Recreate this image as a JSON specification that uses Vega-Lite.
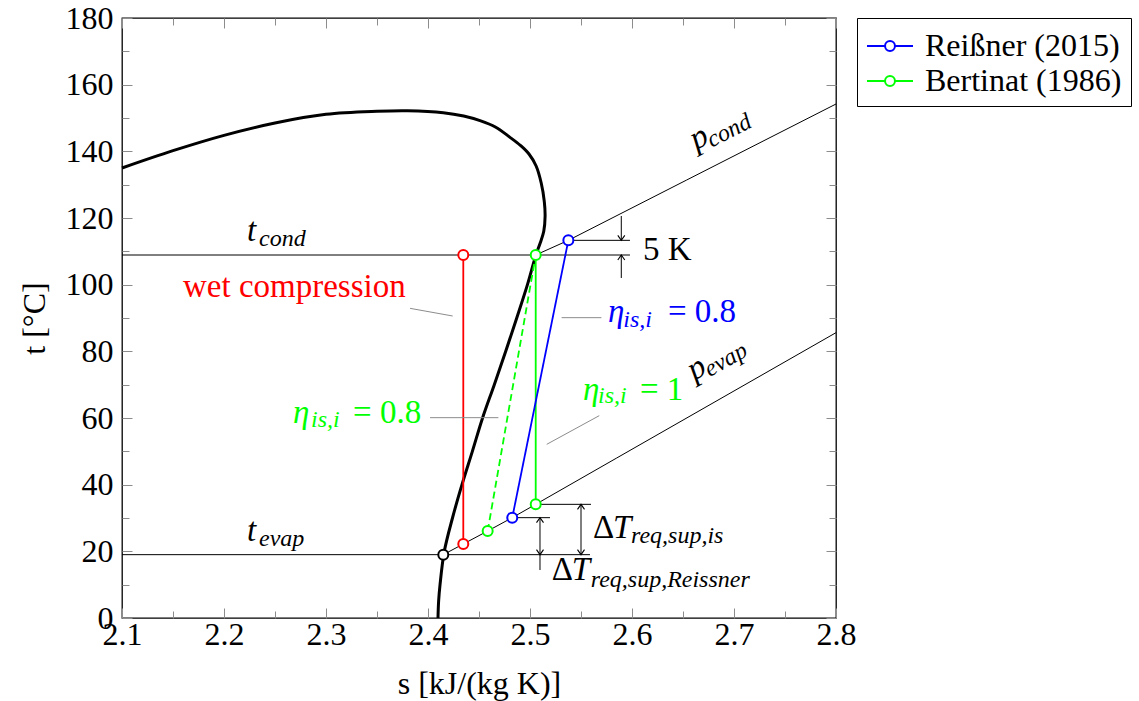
{
  "$schema": "https://vega.github.io/schema/vega-lite/v6.json",
  "width": 714,
  "height": 600,
  "autosize": {"type": "none"},
  "padding": {"left": 122, "top": 18, "right": 303, "bottom": 83},
  "background": "white",
  "config": {
    "view": {"stroke": "black", "strokeWidth": 1.3},
    "font": "Liberation Serif",
    "axis": {"grid": false, "domain": false, "labelFont": "Liberation Serif", "labelFontSize": 32, "labelColor": "black", "titleFont": "Liberation Serif", "titleFontSize": 32, "titleFontWeight": "normal", "titleColor": "black", "tickColor": "#8c8c8c", "tickWidth": 1, "labelFlush": false, "labelOverlap": false, "labelBound": false}
  },
  "datasets": {
    "sat": [
      {"o": 0, "s": 2.1, "t": 135.0}, {"o": 1, "s": 2.15, "t": 140.2}, {"o": 2, "s": 2.2, "t": 144.8}, {"o": 3, "s": 2.25, "t": 148.5},
      {"o": 4, "s": 2.3, "t": 151.1}, {"o": 5, "s": 2.35, "t": 152.0}, {"o": 6, "s": 2.38, "t": 152.15}, {"o": 7, "s": 2.415, "t": 151.6},
      {"o": 8, "s": 2.435, "t": 150.6}, {"o": 9, "s": 2.451, "t": 149.2}, {"o": 10, "s": 2.466, "t": 147.3}, {"o": 11, "s": 2.4804, "t": 144.2},
      {"o": 12, "s": 2.4905, "t": 141.8}, {"o": 13, "s": 2.499, "t": 139.2}, {"o": 14, "s": 2.506, "t": 135.6}, {"o": 15, "s": 2.511, "t": 130.5},
      {"o": 16, "s": 2.514, "t": 125.0}, {"o": 17, "s": 2.5148, "t": 120.5}, {"o": 18, "s": 2.5135, "t": 116.0}, {"o": 19, "s": 2.51, "t": 112.5},
      {"o": 20, "s": 2.5058, "t": 108.9}, {"o": 21, "s": 2.4975, "t": 100.0}, {"o": 22, "s": 2.487, "t": 90.0}, {"o": 23, "s": 2.4762, "t": 80.0},
      {"o": 24, "s": 2.465, "t": 70.0}, {"o": 25, "s": 2.4535, "t": 60.0}, {"o": 26, "s": 2.4435, "t": 50.0}, {"o": 27, "s": 2.4333, "t": 40.0},
      {"o": 28, "s": 2.424, "t": 30.0}, {"o": 29, "s": 2.416, "t": 20.0}, {"o": 30, "s": 2.4118, "t": 10.0}, {"o": 31, "s": 2.4104, "t": 5.0},
      {"o": 32, "s": 2.4098, "t": 0.0}
    ],
    "thin": [
      {"grp": "tcond", "o": 0, "s": 2.1, "t": 108.9}, {"grp": "tcond", "o": 1, "s": 2.598, "t": 108.9},
      {"grp": "tevap", "o": 0, "s": 2.1, "t": 19.0}, {"grp": "tevap", "o": 1, "s": 2.5588, "t": 19.0},
      {"grp": "pcond", "o": 0, "s": 2.5056, "t": 108.9}, {"grp": "pcond", "o": 1, "s": 2.5376, "t": 113.3}, {"grp": "pcond", "o": 2, "s": 2.6536, "t": 131.4}, {"grp": "pcond", "o": 3, "s": 2.8, "t": 154.2},
      {"grp": "pevap", "o": 0, "s": 2.415, "t": 19.0}, {"grp": "pevap", "o": 1, "s": 2.4346, "t": 22.2}, {"grp": "pevap", "o": 2, "s": 2.4585, "t": 26.1}, {"grp": "pevap", "o": 3, "s": 2.4826, "t": 30.1}, {"grp": "pevap", "o": 4, "s": 2.5056, "t": 34.1}, {"grp": "pevap", "o": 5, "s": 2.585, "t": 48.0}, {"grp": "pevap", "o": 6, "s": 2.8, "t": 85.6},
      {"grp": "k5", "o": 0, "s": 2.5376, "t": 113.3}, {"grp": "k5", "o": 1, "s": 2.598, "t": 113.3},
      {"grp": "k5a", "o": 0, "s": 2.5895, "t": 120.6}, {"grp": "k5a", "o": 1, "s": 2.5895, "t": 113.3},
      {"grp": "k5b", "o": 0, "s": 2.5895, "t": 102.0}, {"grp": "k5b", "o": 1, "s": 2.5895, "t": 108.9},
      {"grp": "drh", "o": 0, "s": 2.4826, "t": 30.1}, {"grp": "drh", "o": 1, "s": 2.5196, "t": 30.1},
      {"grp": "drv", "o": 0, "s": 2.5098, "t": 14.4}, {"grp": "drv", "o": 1, "s": 2.5098, "t": 30.1},
      {"grp": "dih", "o": 0, "s": 2.5056, "t": 34.1}, {"grp": "dih", "o": 1, "s": 2.5598, "t": 34.1},
      {"grp": "div", "o": 0, "s": 2.55, "t": 19.0}, {"grp": "div", "o": 1, "s": 2.55, "t": 34.1}
    ],
    "cycle": [
      {"series": "wet compression", "seg": "w", "dash": "solid", "o": 0, "s": 2.4346, "t": 22.2},
      {"series": "wet compression", "seg": "w", "dash": "solid", "o": 1, "s": 2.4346, "t": 108.9},
      {"series": "Bertinat (1986)", "seg": "b1", "dash": "solid", "o": 0, "s": 2.5056, "t": 34.1},
      {"series": "Bertinat (1986)", "seg": "b1", "dash": "solid", "o": 1, "s": 2.5056, "t": 108.9},
      {"series": "Bertinat (1986)", "seg": "b2", "dash": "dashed", "o": 0, "s": 2.4585, "t": 26.1},
      {"series": "Bertinat (1986)", "seg": "b2", "dash": "dashed", "o": 1, "s": 2.5056, "t": 108.9},
      {"series": "Reißner (2015)", "seg": "r", "dash": "solid", "o": 0, "s": 2.4826, "t": 30.1},
      {"series": "Reißner (2015)", "seg": "r", "dash": "solid", "o": 1, "s": 2.5376, "t": 113.3}
    ],
    "pts": [
      {"series": "Reißner (2015)", "s": 2.4826, "t": 30.1},
      {"series": "Reißner (2015)", "s": 2.5376, "t": 113.3},
      {"series": "Bertinat (1986)", "s": 2.4585, "t": 26.1},
      {"series": "Bertinat (1986)", "s": 2.5056, "t": 34.1},
      {"series": "Bertinat (1986)", "s": 2.5056, "t": 108.9},
      {"series": "wet compression", "s": 2.4346, "t": 22.2},
      {"series": "wet compression", "s": 2.4346, "t": 108.9},
      {"series": "diagram", "s": 2.415, "t": 19.0}
    ],
    "leaders": [
      {"grp": "wet", "s": 2.3824, "t": 92.9}, {"grp": "wet", "s": 2.4242, "t": 90.6},
      {"grp": "r08", "s": 2.531, "t": 90.1}, {"grp": "r08", "s": 2.57, "t": 90.1},
      {"grp": "b08", "s": 2.402, "t": 60.1}, {"grp": "b08", "s": 2.469, "t": 60.1},
      {"grp": "b1", "s": 2.5164, "t": 52.1}, {"grp": "b1", "s": 2.5679, "t": 60.7}
    ],
    "arrows": [
      {"dir": "down", "s": 2.5895, "t": 113.3},
      {"dir": "up", "s": 2.5895, "t": 108.9},
      {"dir": "up", "s": 2.5098, "t": 30.1},
      {"dir": "down", "s": 2.5098, "t": 19.0},
      {"dir": "up", "s": 2.55, "t": 34.1},
      {"dir": "down", "s": 2.55, "t": 19.0}
    ],
    "notes": [
      {"kind": "main", "series": "diagram", "text": "t", "s": 2.2225, "t": 113.1},
      {"kind": "sub", "series": "diagram", "text": "cond", "s": 2.2343, "t": 111.6},
      {"kind": "main", "series": "diagram", "text": "t", "s": 2.2225, "t": 23.1},
      {"kind": "sub", "series": "diagram", "text": "evap", "s": 2.2343, "t": 21.6},
      {"kind": "roman", "series": "wet compression", "text": "wet compression", "s": 2.1598, "t": 96.3},
      {"kind": "main", "series": "Reißner (2015)", "text": "η", "s": 2.5765, "t": 88.8},
      {"kind": "sub", "series": "Reißner (2015)", "text": "is,i", "s": 2.5915, "t": 87.3},
      {"kind": "roman", "series": "Reißner (2015)", "text": "= 0.8", "s": 2.6353, "t": 88.8},
      {"kind": "main", "series": "Bertinat (1986)", "text": "η", "s": 2.2676, "t": 58.5},
      {"kind": "sub", "series": "Bertinat (1986)", "text": "is,i", "s": 2.2853, "t": 57.3},
      {"kind": "roman", "series": "Bertinat (1986)", "text": "= 0.8", "s": 2.3265, "t": 58.5},
      {"kind": "main", "series": "Bertinat (1986)", "text": "η", "s": 2.552, "t": 65.4},
      {"kind": "sub", "series": "Bertinat (1986)", "text": "is,i", "s": 2.5667, "t": 64.5},
      {"kind": "roman", "series": "Bertinat (1986)", "text": "= 1", "s": 2.6078, "t": 65.4},
      {"kind": "roman", "series": "diagram", "text": "5 K", "s": 2.6108, "t": 107.4},
      {"kind": "roman", "series": "diagram", "text": "Δ", "s": 2.5618, "t": 24.0},
      {"kind": "main", "series": "diagram", "text": "T", "s": 2.5814, "t": 24.0},
      {"kind": "sub", "series": "diagram", "text": "req,sup,is", "s": 2.599, "t": 22.5},
      {"kind": "roman", "series": "diagram", "text": "Δ", "s": 2.5213, "t": 11.4},
      {"kind": "main", "series": "diagram", "text": "T", "s": 2.5409, "t": 11.4},
      {"kind": "sub", "series": "diagram", "text": "req,sup,Reissner", "s": 2.5595, "t": 9.4},
      {"kind": "pc", "series": "diagram", "text": "p", "s": 2.6627, "t": 140.4},
      {"kind": "pcs", "series": "diagram", "text": "cond", "s": 2.6781, "t": 141.1},
      {"kind": "pe", "series": "diagram", "text": "p", "s": 2.6611, "t": 71.2},
      {"kind": "pes", "series": "diagram", "text": "evap", "s": 2.6763, "t": 72.2}
    ]
  },
  "resolve": {"axis": {"x": "independent", "y": "independent"}},
  "layer": [
    {
      "data": {"name": "thin"},
      "mark": {"type": "line", "color": "black", "strokeWidth": 1},
      "encoding": {
        "x": {"field": "s", "type": "quantitative", "scale": {"domain": [2.1, 2.8], "nice": false, "zero": false},
              "axis": {"orient": "bottom", "values": [2.1, 2.2, 2.3, 2.4, 2.5, 2.6, 2.7, 2.8], "format": ".1f", "tickSize": -10, "labelPadding": 11, "title": "s [kJ/(kg K)]", "titlePadding": 18}},
        "y": {"field": "t", "type": "quantitative", "scale": {"domain": [0, 180], "nice": false, "zero": false},
              "axis": {"orient": "left", "values": [0, 20, 40, 60, 80, 100, 120, 140, 160, 180], "format": "d", "tickSize": -10, "labelPadding": 19, "title": "t [°C]", "titlePadding": 14}},
        "detail": {"field": "grp"},
        "order": {"field": "o"}
      }
    },
    {
      "data": {"name": "sat"},
      "mark": {"type": "line", "color": "black", "strokeWidth": 3, "interpolate": "catmull-rom"},
      "encoding": {
        "x": {"field": "s", "type": "quantitative", "scale": {"domain": [2.1, 2.8], "nice": false, "zero": false},
              "axis": {"orient": "bottom", "values": [2.15, 2.25, 2.35, 2.45, 2.55, 2.65, 2.75], "tickSize": -7, "labels": false, "title": null}},
        "y": {"field": "t", "type": "quantitative", "scale": {"domain": [0, 180], "nice": false, "zero": false},
              "axis": {"orient": "left", "values": [10, 30, 50, 70, 90, 110, 130, 150, 170], "tickSize": -7, "labels": false, "title": null}},
        "order": {"field": "o"}
      }
    },
    {
      "data": {"name": "cycle"},
      "mark": {"type": "line", "strokeWidth": 1.8},
      "encoding": {
        "x": {"field": "s", "type": "quantitative", "scale": {"domain": [2.1, 2.8], "nice": false, "zero": false},
              "axis": {"orient": "top", "values": [2.1, 2.2, 2.3, 2.4, 2.5, 2.6, 2.7, 2.8], "tickSize": -10, "labels": false, "title": null}},
        "y": {"field": "t", "type": "quantitative", "scale": {"domain": [0, 180], "nice": false, "zero": false},
              "axis": {"orient": "right", "values": [0, 20, 40, 60, 80, 100, 120, 140, 160, 180], "tickSize": -10, "labels": false, "title": null}},
        "stroke": {"field": "series", "type": "nominal", "scale": {"domain": ["Reißner (2015)", "Bertinat (1986)", "wet compression"], "range": ["#0000ff", "#00ff00", "#ff0000"]}, "legend": null},
        "strokeDash": {"field": "dash", "type": "nominal", "scale": {"domain": ["solid", "dashed"], "range": [[1, 0], [7, 4]]}, "legend": null},
        "detail": {"field": "seg"},
        "order": {"field": "o"}
      }
    },
    {
      "data": {"name": "leaders"},
      "mark": {"type": "line", "color": "#8c8c8c", "strokeWidth": 1},
      "encoding": {
        "x": {"field": "s", "type": "quantitative", "scale": {"domain": [2.1, 2.8], "nice": false, "zero": false},
              "axis": {"orient": "top", "values": [2.15, 2.25, 2.35, 2.45, 2.55, 2.65, 2.75], "tickSize": -7, "labels": false, "title": null}},
        "y": {"field": "t", "type": "quantitative", "scale": {"domain": [0, 180], "nice": false, "zero": false},
              "axis": {"orient": "right", "values": [10, 30, 50, 70, 90, 110, 130, 150, 170], "tickSize": -7, "labels": false, "title": null}},
        "detail": {"field": "grp"}
      }
    },
    {
      "data": {"name": "arrows"},
      "mark": {"type": "point", "filled": false, "color": "black", "strokeWidth": 1.1, "size": 100, "opacity": 1},
      "encoding": {
        "x": {"field": "s", "type": "quantitative", "scale": {"domain": [2.1, 2.8], "nice": false, "zero": false}, "axis": null},
        "y": {"field": "t", "type": "quantitative", "scale": {"domain": [0, 180], "nice": false, "zero": false}, "axis": null},
        "shape": {"field": "dir", "type": "nominal", "scale": {"domain": ["up", "down"], "range": ["M-0.7,1L0,0L0.7,1", "M-0.7,-1L0,0L0.7,-1"]}, "legend": null}
      }
    },
    {
      "data": {"name": "pts"},
      "mark": {"type": "point", "filled": false, "fill": "white", "fillOpacity": 1, "strokeWidth": 2, "size": 100, "opacity": 1},
      "encoding": {
        "x": {"field": "s", "type": "quantitative", "scale": {"domain": [2.1, 2.8], "nice": false, "zero": false}, "axis": null},
        "y": {"field": "t", "type": "quantitative", "scale": {"domain": [0, 180], "nice": false, "zero": false}, "axis": null},
        "color": {"field": "series", "type": "nominal", "scale": {"domain": ["Reißner (2015)", "Bertinat (1986)", "wet compression", "diagram"], "range": ["#0000ff", "#00ff00", "#ff0000", "#000000"]},
                  "legend": {"values": ["Reißner (2015)", "Bertinat (1986)"], "title": null, "orient": "none", "legendX": 735, "legendY": 0,
                             "symbolType": "M-1.3,0L-0.28,0M0.28,0L1.3,0M-0.28,0A0.28,0.28,0,1,1,0.28,0A0.28,0.28,0,1,1,-0.28,0",
                             "symbolSize": 1253, "symbolStrokeWidth": 2, "symbolFillColor": "white", "symbolOffset": 5, "labelFont": "Liberation Serif", "labelFontSize": 32, "labelColor": "black",
                             "strokeColor": "black", "fillColor": "white", "padding": 9, "rowPadding": 0, "labelOffset": 16, "labelLimit": 400, "symbolOpacity": 1}}
      }
    },
    {
      "data": {"name": "notes"},
      "transform": [{"filter": "datum.kind === 'main'"}],
      "mark": {"type": "text", "align": "left", "baseline": "alphabetic", "font": "Liberation Serif", "fontStyle": "italic", "fontSize": 33},
      "encoding": {
        "x": {"field": "s", "type": "quantitative", "scale": {"domain": [2.1, 2.8], "nice": false, "zero": false}, "axis": null},
        "y": {"field": "t", "type": "quantitative", "scale": {"domain": [0, 180], "nice": false, "zero": false}, "axis": null},
        "text": {"field": "text"},
        "fill": {"field": "series", "type": "nominal", "scale": {"domain": ["diagram", "Reißner (2015)", "Bertinat (1986)", "wet compression"], "range": ["#000000", "#0000ff", "#00ff00", "#ff0000"]}, "legend": null}
      }
    },
    {
      "data": {"name": "notes"},
      "transform": [{"filter": "datum.kind === 'sub'"}],
      "mark": {"type": "text", "align": "left", "baseline": "alphabetic", "font": "Liberation Serif", "fontStyle": "italic", "fontSize": 24},
      "encoding": {
        "x": {"field": "s", "type": "quantitative", "scale": {"domain": [2.1, 2.8], "nice": false, "zero": false}, "axis": null},
        "y": {"field": "t", "type": "quantitative", "scale": {"domain": [0, 180], "nice": false, "zero": false}, "axis": null},
        "text": {"field": "text"},
        "fill": {"field": "series", "type": "nominal", "scale": {"domain": ["diagram", "Reißner (2015)", "Bertinat (1986)", "wet compression"], "range": ["#000000", "#0000ff", "#00ff00", "#ff0000"]}, "legend": null}
      }
    },
    {
      "data": {"name": "notes"},
      "transform": [{"filter": "datum.kind === 'roman'"}],
      "mark": {"type": "text", "align": "left", "baseline": "alphabetic", "font": "Liberation Serif", "fontSize": 33},
      "encoding": {
        "x": {"field": "s", "type": "quantitative", "scale": {"domain": [2.1, 2.8], "nice": false, "zero": false}, "axis": null},
        "y": {"field": "t", "type": "quantitative", "scale": {"domain": [0, 180], "nice": false, "zero": false}, "axis": null},
        "text": {"field": "text"},
        "fill": {"field": "series", "type": "nominal", "scale": {"domain": ["diagram", "Reißner (2015)", "Bertinat (1986)", "wet compression"], "range": ["#000000", "#0000ff", "#00ff00", "#ff0000"]}, "legend": null}
      }
    },
    {
      "data": {"name": "notes"},
      "transform": [{"filter": "datum.kind === 'pc'"}],
      "mark": {"type": "text", "align": "left", "baseline": "alphabetic", "font": "Liberation Serif", "fontStyle": "italic", "fontSize": 33, "angle": -27, "color": "black"},
      "encoding": {
        "x": {"field": "s", "type": "quantitative", "scale": {"domain": [2.1, 2.8], "nice": false, "zero": false}, "axis": null},
        "y": {"field": "t", "type": "quantitative", "scale": {"domain": [0, 180], "nice": false, "zero": false}, "axis": null},
        "text": {"field": "text"}
      }
    },
    {
      "data": {"name": "notes"},
      "transform": [{"filter": "datum.kind === 'pcs'"}],
      "mark": {"type": "text", "align": "left", "baseline": "alphabetic", "font": "Liberation Serif", "fontStyle": "italic", "fontSize": 24, "angle": -27, "color": "black"},
      "encoding": {
        "x": {"field": "s", "type": "quantitative", "scale": {"domain": [2.1, 2.8], "nice": false, "zero": false}, "axis": null},
        "y": {"field": "t", "type": "quantitative", "scale": {"domain": [0, 180], "nice": false, "zero": false}, "axis": null},
        "text": {"field": "text"}
      }
    },
    {
      "data": {"name": "notes"},
      "transform": [{"filter": "datum.kind === 'pe'"}],
      "mark": {"type": "text", "align": "left", "baseline": "alphabetic", "font": "Liberation Serif", "fontStyle": "italic", "fontSize": 33, "angle": -30, "color": "black"},
      "encoding": {
        "x": {"field": "s", "type": "quantitative", "scale": {"domain": [2.1, 2.8], "nice": false, "zero": false}, "axis": null},
        "y": {"field": "t", "type": "quantitative", "scale": {"domain": [0, 180], "nice": false, "zero": false}, "axis": null},
        "text": {"field": "text"}
      }
    },
    {
      "data": {"name": "notes"},
      "transform": [{"filter": "datum.kind === 'pes'"}],
      "mark": {"type": "text", "align": "left", "baseline": "alphabetic", "font": "Liberation Serif", "fontStyle": "italic", "fontSize": 24, "angle": -30, "color": "black"},
      "encoding": {
        "x": {"field": "s", "type": "quantitative", "scale": {"domain": [2.1, 2.8], "nice": false, "zero": false}, "axis": null},
        "y": {"field": "t", "type": "quantitative", "scale": {"domain": [0, 180], "nice": false, "zero": false}, "axis": null},
        "text": {"field": "text"}
      }
    }
  ]
}
